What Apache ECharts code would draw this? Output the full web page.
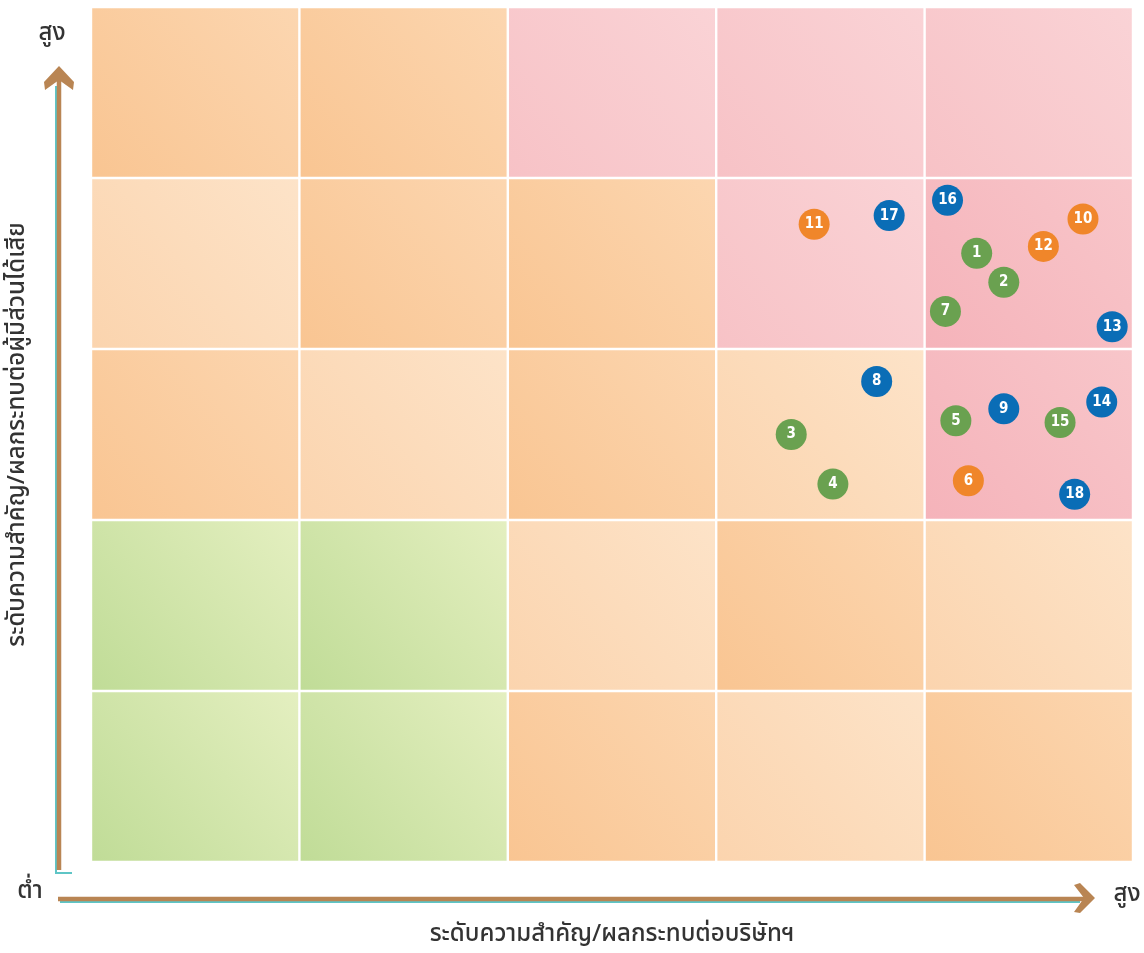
<!DOCTYPE html>
<html>
<head>
<meta charset="utf-8">
<script src="https://cdn.jsdelivr.net/npm/echarts@6/dist/echarts.min.js"></script>
<style>
html,body{margin:0;padding:0;background:#fff;}
#main{width:1144px;height:953px;}
</style>
</head>
<body>
<div id="main"></div>
<script>
// ---- data ----
const xTitle = 'ระดับความสำคัญ/ผลกระทบต่อบริษัทฯ';
const yTitle = 'ระดับความสำคัญ/ผลกระทบต่อผู้มีส่วนได้เสีย';
const lowLabel = 'ต่ำ';
const highLabel = 'สูง';
// cell levels, rows from bottom (row 0) to top (row 4), columns left to right
const cellRow0 = ['green', 'green', 'orange', 'light', 'orange'];
const cellRow1 = ['green', 'green', 'light', 'orange', 'light'];
const cellRow2 = ['orange', 'light', 'orange', 'light', 'pinkDeep'];
const cellRow3 = ['light', 'orange', 'orange', 'pink', 'pinkDeep'];
const cellRow4 = ['orange', 'orange', 'pink', 'pink', 'pink'];
// risk points
const riskIds   = ['1','2','3','4','5','6','7','8','9','10','11','12','13','14','15','16','17','18'];
const riskX     = [4.25, 4.38, 3.36, 3.56, 4.15, 4.21, 4.10, 3.77, 4.38, 4.76, 3.47, 4.57, 4.90, 4.85, 4.65, 4.11, 3.83, 4.72];
const riskY     = [3.56, 3.39, 2.50, 2.21, 2.58, 2.23, 3.22, 2.81, 2.65, 3.76, 3.73, 3.60, 3.13, 2.69, 2.57, 3.87, 3.78, 2.15];
const riskGroup = ['g','g','g','g','g','o','g','b','b','o','o','o','b','b','g','b','b','b'];

// ---- styles ----
const cellFill = {
  green: ['#c0dc97', '#e4efc0'],
  orange: ['#f9c592', '#fcd6b0'],
  light: ['#fbd4ae', '#fde3c8'],
  pink: ['#f7c2c6', '#fad3d6'],
  pinkDeep: ['#f5b3ba', '#f8c6ca']
};
const groupColor = { g: '#6aa150', o: '#f0862a', b: '#0a6db6' };

const cellRows = [cellRow0, cellRow1, cellRow2, cellRow3, cellRow4];
const cellData = [];
cellRows.forEach((row, r) => row.forEach((lvl, c) => cellData.push([c, r, lvl])));

function pointsFor(g) {
  const out = [];
  riskIds.forEach((id, i) => {
    if (riskGroup[i] === g) out.push({ value: [riskX[i], riskY[i]], name: id });
  });
  return out;
}

const chart = echarts.init(document.getElementById('main'), null, { renderer: 'canvas' });
const fontFam = '"Noto Sans Thai","Noto Sans","DejaVu Sans",sans-serif';
const brown = '#b98553';
const teal = '#5ec5c6';
const textCol = '#333333';

const scatterSeries = ['g', 'o', 'b'].map(g => ({
  type: 'scatter',
  data: pointsFor(g),
  symbol: 'circle',
  symbolSize: 31,
  itemStyle: { color: groupColor[g], opacity: 1 },
  label: {
    show: true,
    position: 'inside',
    formatter: p => p.name,
    color: '#fff',
    fontWeight: 'bold',
    fontSize: 15,
    fontFamily: '"DejaVu Sans Condensed","DejaVu Sans",sans-serif'
  },
  z: 5
}));

chart.setOption({
  animation: false,
  backgroundColor: '#fff',
  grid: { left: 91, right: 11, top: 7, bottom: 91, containLabel: false, outerBoundsMode: 'none' },
  xAxis: {
    type: 'value', min: 0, max: 5, interval: 1,
    axisLine: { show: false }, axisTick: { show: false },
    axisLabel: { show: false }, splitLine: { show: false },
    name: xTitle, nameLocation: 'middle', nameGap: 62,
    nameTextStyle: { fontSize: 24, color: textCol, fontFamily: fontFam, fontWeight: 500 }
  },
  yAxis: {
    type: 'value', min: 0, max: 5, interval: 1,
    axisLine: { show: false }, axisTick: { show: false },
    axisLabel: { show: false }, splitLine: { show: false },
    name: yTitle, nameLocation: 'middle', nameGap: 60, nameRotate: 90,
    nameTextStyle: { fontSize: 24, color: textCol, fontFamily: fontFam, fontWeight: 500 }
  },
  series: [
    {
      type: 'custom',
      data: cellData,
      z: 1,
      silent: true,
      renderItem: function (params, api) {
        const c = api.value(0), r = api.value(1);
        const lvl = cellData[params.dataIndex][2];
        const p0 = api.coord([c, r + 1]);
        const p1 = api.coord([c + 1, r]);
        const inset = 1.2;
        const cols = cellFill[lvl];
        return {
          type: 'rect',
          shape: { x: p0[0] + inset, y: p0[1] + inset, width: p1[0] - p0[0] - 2 * inset, height: p1[1] - p0[1] - 2 * inset },
          style: {
            fill: new echarts.graphic.LinearGradient(0, 1, 1, 0, [
              { offset: 0, color: cols[0] },
              { offset: 1, color: cols[1] }
            ])
          }
        };
      }
    },
    ...scatterSeries
  ],
  graphic: [
    // vertical axis arrow (teal underline then brown)
    { type: 'polyline', shape: { points: [[56, 86], [56, 873], [72, 873]] }, style: { stroke: teal, lineWidth: 2, fill: null }, z: 10 },
    { type: 'line', shape: { x1: 59, y1: 78, x2: 59, y2: 870 }, style: { stroke: brown, lineWidth: 4.5 }, z: 11 },
    { type: 'polygon', shape: { points: [[59, 66], [74, 82], [73, 90], [59, 80], [45, 90], [44, 82]] }, style: { fill: brown }, z: 11 },
    // horizontal axis arrow
    { type: 'line', shape: { x1: 60, y1: 902, x2: 1080, y2: 902 }, style: { stroke: teal, lineWidth: 2 }, z: 10 },
    { type: 'line', shape: { x1: 58, y1: 899, x2: 1084, y2: 899 }, style: { stroke: brown, lineWidth: 4.5 }, z: 11 },
    { type: 'polygon', shape: { points: [[1095, 898], [1080, 913], [1074, 912], [1084, 898], [1074, 885], [1080, 883]] }, style: { fill: brown }, z: 11 },
    // end labels
    { type: 'text', x: 52, y: 35, style: { text: highLabel, fontSize: 24, fill: textCol, fontFamily: fontFam, fontWeight: 500, align: 'center', verticalAlign: 'middle' }, z: 12 },
    { type: 'text', x: 30, y: 893, style: { text: lowLabel, fontSize: 24, fill: textCol, fontFamily: fontFam, fontWeight: 500, align: 'center', verticalAlign: 'middle' }, z: 12 },
    { type: 'text', x: 1127, y: 896, style: { text: highLabel, fontSize: 24, fill: textCol, fontFamily: fontFam, fontWeight: 500, align: 'center', verticalAlign: 'middle' }, z: 12 }
  ]
});
</script>
</body>
</html>
